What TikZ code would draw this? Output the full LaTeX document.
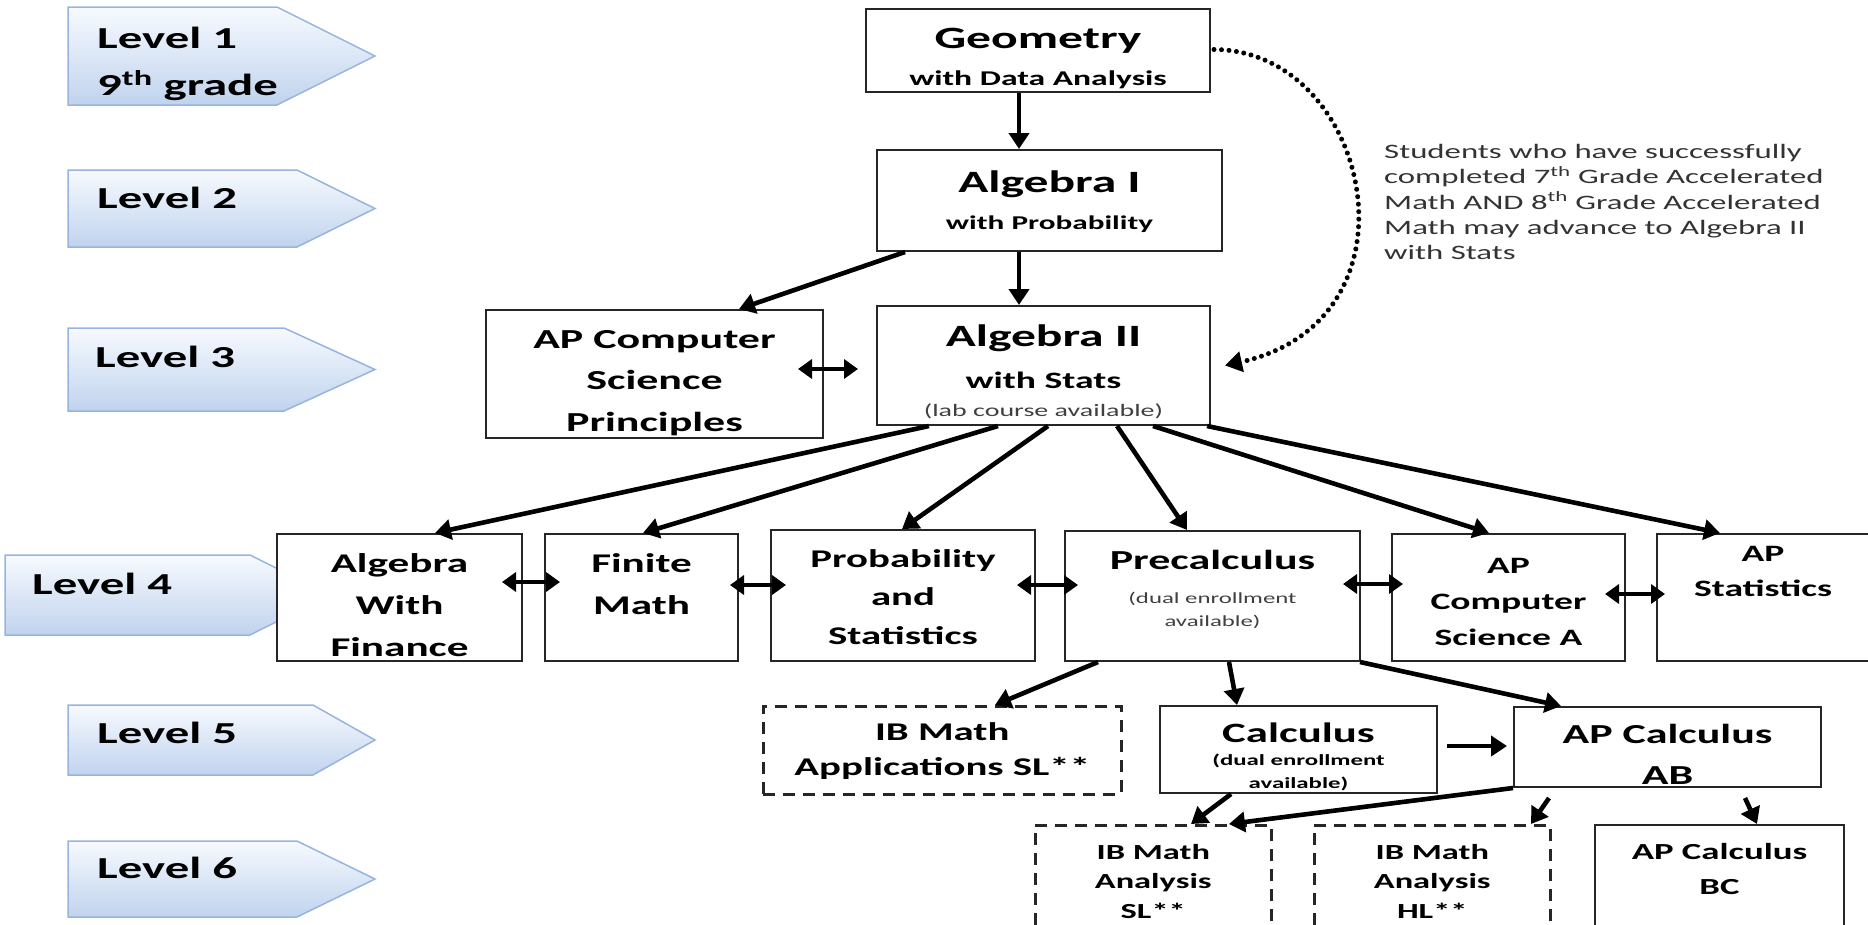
\documentclass[tikz,border=0pt]{standalone}
\usepackage{fontspec}
\setmainfont{Carlito}[FakeStretch=1.6]
\usetikzlibrary{arrows.meta, calc}

\definecolor{lvltop}{RGB}{247,250,254}
\definecolor{lvlbot}{RGB}{192,211,238}
\definecolor{lvledge}{RGB}{150,180,222}

% one line group of a course box: size, baseline distance, text
\newcommand\crs[3]{{\fontsize{#1}{#2}\selectfont #3\par}}
% course box content: width, height, first baseline, lines
\newcommand\cbox[4]{\parbox[c][#2pt][t]{#1pt}{\centering\leavevmode\rule{0pt}{#3pt}#4}}

\begin{document}
\begin{tikzpicture}[
    x=1pt, y=-1pt,
    course/.style={
        draw=black!85, line width=2pt, fill=white,
        inner sep=0pt, anchor=north west, font=\bfseries
    },
    ibcourse/.style={
        course, dashed, dash pattern=on 12pt off 8pt, line width=2.5pt
    },
    levelarrow/.style={
        top color=lvltop, bottom color=lvlbot,
        draw=lvledge, line width=1.5pt
    },
    lvltext/.style={
        anchor=base west, inner sep=0pt,
        font=\bfseries\fontsize{30.5}{47}\selectfont
    },
    note/.style={
        anchor=north west, inner sep=0pt, align=left, text=black!80,
        font=\fontsize{20.5}{25.3}\selectfont
    },
    flow/.style={
        -{Triangle[length=16pt,width=20pt]},
        line width=4.6pt
    },
    twoway/.style={
        {Triangle[length=14pt,width=19pt]}-{Triangle[length=14pt,width=19pt]},
        line width=4.6pt
    },
    hint/.style={
        -{Triangle[length=17pt,width=20pt]},
        line width=5pt, dash pattern=on 0pt off 7.5pt, line cap=round
    }
]
\useasboundingbox (0,0) rectangle (1868,924);
\clip (0,0) rectangle (1868,924);

%% ── Level arrows ───────────────────────────
\foreach \l/\t/\b/\s/\p in {68/7/105/277/375, 68/170/247/297/375,
    68/328/411/284/375, 5/555/635/250/330, 68/705/775/313/375,
    68/841/917/297/375}{
    \path[levelarrow] (\l,\t) -- (\s,\t) -- (\p,{(\t+\b)/2})
        -- (\s,\b) -- (\l,\b) -- cycle;
}

\node[lvltext] (lvl1) at (97,48)
    {\parbox[t]{260pt}{Level 1\\9\textsuperscript{th} grade}};
\node[lvltext] (lvl2) at (97,208) {Level 2};
\node[lvltext] (lvl3) at (95,367) {Level 3};
\node[lvltext] (lvl4) at (32,594) {Level 4};
\node[lvltext] (lvl5) at (97,743) {Level 5};
\node[lvltext] (lvl6) at (97,878) {Level 6};

% ══════════════════════════════════════
%  Levels 1 - 3
% ══════════════════════════════════════
\node[course] (geo) at (865,8) {\cbox{344}{83}{39}{%
    \crs{31}{36}{Geometry}\crs{21}{37}{with Data Analysis}}};
\node[course] (alg1) at (876,149) {\cbox{345}{101}{42}{%
    \crs{31}{36}{Algebra I}\crs{19.5}{37}{with Probability}}};
\node[course] (alg2) at (876,305) {\cbox{333}{119}{40}{%
    \crs{31}{36}{Algebra II}\crs{23.5}{42}{with Stats}%
    \crs{17.5}{28}{\mdseries\color{black!75}(lab course available)}}};
\node[course] (apcsp) at (485,309) {\cbox{337}{128}{38}{%
    \crs{27.5}{41.5}{AP Computer\\Science\\Principles}}};

\node[note] (note) at (1384,144) {Students who have successfully\\
    completed 7\textsuperscript{th} Grade Accelerated\\
    Math AND 8\textsuperscript{th} Grade Accelerated\\
    Math may advance to Algebra II\\with Stats};

% ══════════════════════════════════════
%  Level 4
% ══════════════════════════════════════
\node[course] (algfin) at (276,533) {\cbox{245}{127}{38}{%
    \crs{27}{42}{Algebra\\With\\Finance}}};
\node[course] (finite) at (544,533) {\cbox{193}{127}{38}{%
    \crs{27}{42}{Finite\\Math}}};
\node[course] (probstat) at (770,529) {\cbox{264}{131}{37}{%
    \crs{25.5}{38.5}{Probability\\and\\Statistics}}};
\node[course] (precalc) at (1064,530) {\cbox{295}{130}{38}{%
    \crs{27.5}{36}{Precalculus}%
    \crs{15.5}{34}{\mdseries\color{black!75}(dual enrollment}%
    \crs{15.5}{23}{\mdseries\color{black!75}available)}}};
\node[course] (apcsa) at (1391,533) {\cbox{233}{127}{39}{%
    \crs{23.5}{36}{AP\\Computer\\Science A}}};
\node[course] (apstat) at (1656,533) {\cbox{212}{127}{27}{%
    \crs{23.5}{35}{AP\\Statistics}}};

% ══════════════════════════════════════
%  Levels 5 - 6
% ══════════════════════════════════════
\node[ibcourse] (ibapp) at (762,705) {\cbox{358}{88}{34}{%
    \crs{25.5}{35}{IB Math\\Applications SL**}}};
\node[course] (calc) at (1159,705) {\cbox{277}{87}{36}{%
    \crs{28}{36}{Calculus}\crs{15.5}{23}{(dual enrollment}%
    \crs{15.5}{23}{available)}}};
\node[course] (apab) at (1513,706) {\cbox{307}{80}{36}{%
    \crs{27.5}{41}{AP Calculus\\AB}}};
\node[ibcourse] (ibsl) at (1034,824) {\cbox{236}{120}{34}{%
    \crs{21.5}{29.5}{IB Math\\Analysis\\SL**}}};
\node[ibcourse] (ibhl) at (1313,824) {\cbox{236}{120}{34}{%
    \crs{21.5}{29.5}{IB Math\\Analysis\\HL**}}};
\node[course] (apbc) at (1594,824) {\cbox{249}{120}{34}{%
    \crs{23}{35}{AP Calculus\\BC}}};

%% ── Connectors ─────────────────────────────
\draw[flow] ($(geo.south west)+(154,0)$) -- ($(alg1.north west)+(143,0)$);
\draw[flow] ($(alg1.south west)+(143,0)$) -- ($(alg2.north west)+(143,0)$);
\draw[flow] ($(alg1.south west)+(29,0)$) -- ($(apcsp.north west)+(254,0)$);
\draw[twoway] ($(apcsp.east)+(-26,-5)$) -- ($(alg2.west)+(-18,3.5)$);
% acceleration path (dotted)
\draw[hint] ($(geo.east)+(3,-1)$) .. controls (1370,50) and (1430,320)
    .. ($(alg2.east)+(14,0)$);

% Algebra II to level 4
\draw[flow] ($(alg2.south west)+(53,0)$) -- ($(algfin.north west)+(159,0)$);
\draw[flow] ($(alg2.south west)+(122,0)$) -- ($(finite.north west)+(99,0)$);
\draw[flow] ($(alg2.south west)+(172,0)$) -- ($(probstat.north west)+(132,0)$);
\draw[flow] ($(alg2.south west)+(241,0)$) -- ($(precalc.north west)+(123,0)$);
\draw[flow] ($(alg2.south west)+(277,0)$) -- ($(apcsa.north west)+(98,0)$);
\draw[flow] ($(alg2.south west)+(331,0)$) -- ($(apstat.north west)+(64,0)$);

% level 4 row
\draw[twoway] ($(algfin.east)+(-21,-15.5)$) -- ($(finite.west)+(16,-15.5)$);
\draw[twoway] ($(finite.east)+(-9,-12.5)$) -- ($(probstat.west)+(16,-10.5)$);
\draw[twoway] ($(probstat.east)+(-19,-10.5)$) -- ($(precalc.west)+(14,-11)$);
\draw[twoway] ($(precalc.east)+(-18,-12)$) -- ($(apcsa.west)+(12,-13.5)$);
\draw[twoway] ($(apcsa.east)+(-21,-3.5)$) -- ($(apstat.west)+(9,-3.5)$);

% level 5 and 6
\draw[flow] ($(precalc.south west)+(34,0)$) -- ($(ibapp.north west)+(233,0)$);
\draw[flow] ($(precalc.south west)+(165,0)$) -- ($(calc.north west)+(78,0)$);
\draw[flow] ($(precalc.south east)+(-1,0)$) -- ($(apab.north west)+(48,0)$);
\draw[flow] ($(calc.east)+(9,-3.5)$) -- ($(apab.west)+(-6,-1)$);
\draw[flow] ($(calc.south west)+(72,0)$) -- ($(ibsl.north west)+(157,0)$);
\draw[flow] (apab.south west) -- ($(ibsl.north west)+(195,0)$);
\draw[flow] ($(apab.south west)+(36,10)$) -- ($(ibhl.north west)+(218,0)$);
\draw[flow] ($(apab.south west)+(232,10)$) -- ($(apbc.north west)+(163,0)$);

\end{tikzpicture}
\end{document}
